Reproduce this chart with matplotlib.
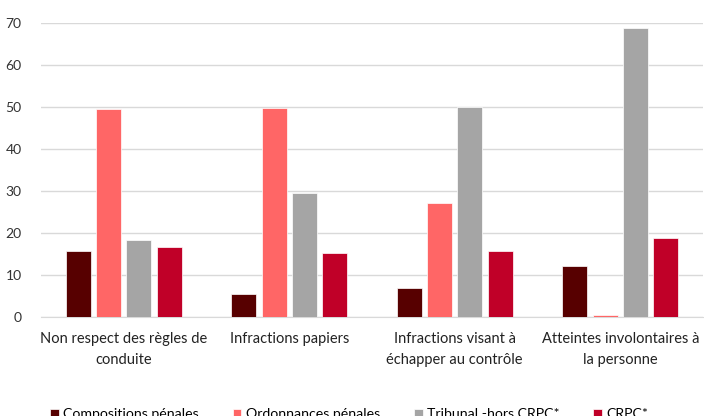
import matplotlib.pyplot as plt
import numpy as np

categories = [
    "Non respect des règles de\nconduite",
    "Infractions papiers",
    "Infractions visant à\néchapper au contrôle",
    "Atteintes involontaires à\nla personne",
]
series_names = [
    "Compositions pénales",
    "Ordonnances pénales",
    "Tribunal -hors CRPC*",
    "CRPC*",
]
compositions = [15.6, 5.3, 6.9, 12.2]
ordonnances = [49.5, 49.8, 27.2, 0.4]
tribunal = [18.2, 29.4, 50.0, 68.8]
crpc = [16.6, 15.1, 15.7, 18.8]
colors = ["#570000", "#FF6666", "#A5A5A5", "#C00028"]
y_ticks = [0, 10, 20, 30, 40, 50, 60, 70]


def main():
    plt.rcParams["font.family"] = ["Lato", "DejaVu Sans"]
    fig = plt.figure(figsize=(7.04, 4.16), dpi=100)
    ax = fig.add_axes([41 / 704, 1 - 316.7 / 416, 662 / 704, 293.4 / 416])

    x = np.arange(len(categories))
    width = 0.151
    step = 0.184
    for i, (vals, name) in enumerate(
        zip([compositions, ordonnances, tribunal, crpc], series_names)
    ):
        ax.bar(x + (i - 1.5) * step, vals, width, color=colors[i],
               label=name, edgecolor="white", linewidth=0.5, zorder=3)

    ax.set_xlim(-0.5, len(categories) - 0.5)
    ax.set_ylim(0, 70)
    ax.set_yticks(y_ticks)
    ax.tick_params(axis="y", length=0, labelsize=10, colors="#333333", pad=14)
    ax.set_xticks(x)
    ax.set_xticklabels(categories, fontsize=10.5, color="#222222",
                       linespacing=1.6)
    ax.tick_params(axis="x", length=0, pad=11)
    ax.yaxis.grid(True, color="#D9D9D9", linewidth=1, zorder=0)
    for s in ["top", "right", "left"]:
        ax.spines[s].set_visible(False)
    ax.spines["bottom"].set_color("#D9D9D9")

    fig.legend(loc="center left", bbox_to_anchor=(50 / 704, 0.004), ncol=4,
               frameon=False, fontsize=10.2, handlelength=0.62,
               handleheight=0.62, handletextpad=0.3, columnspacing=2.4,
               borderpad=0, borderaxespad=0)
    fig.savefig("out.png", dpi=100)


if __name__ == "__main__":
    main()
